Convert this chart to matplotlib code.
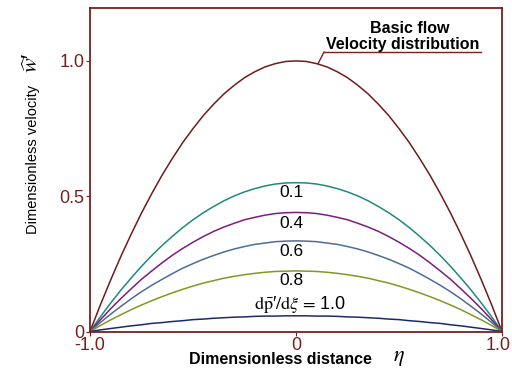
import matplotlib
matplotlib.use("Agg")
import matplotlib.pyplot as plt
from matplotlib.transforms import ScaledTranslation

plt.rcParams['font.family'] = ['Liberation Sans', 'DejaVu Sans']
plt.rcParams['mathtext.fontset'] = 'stix'

# dimensionless distance eta
eta = [-1.0, -0.95, -0.9, -0.85, -0.8, -0.75, -0.7, -0.65, -0.6, -0.55, -0.5,
       -0.45, -0.4, -0.35, -0.3, -0.25, -0.2, -0.15, -0.1, -0.05, 0.0,
       0.05, 0.1, 0.15, 0.2, 0.25, 0.3, 0.35, 0.4, 0.45, 0.5,
       0.55, 0.6, 0.65, 0.7, 0.75, 0.8, 0.85, 0.9, 0.95, 1.0]

# velocity profiles
w_basic = [0, .098, .19, .278, .36, .438, .51, .578, .64, .698, .75,
           .798, .84, .878, .91, .938, .96, .978, .99, .998, 1.0,
           .998, .99, .978, .96, .938, .91, .878, .84, .798, .75,
           .698, .64, .578, .51, .438, .36, .278, .19, .098, 0]
w_01 = [0, .054, .105, .153, .198, .241, .281, .318, .352, .384, .413,
        .439, .462, .483, .501, .516, .528, .538, .545, .549, .55,
        .549, .545, .538, .528, .516, .501, .483, .462, .439, .413,
        .384, .352, .318, .281, .241, .198, .153, .105, .054, 0]
w_04 = [0, .043, .084, .122, .158, .193, .224, .254, .282, .307, .33,
        .351, .37, .386, .40, .413, .422, .43, .436, .439, .44,
        .439, .436, .43, .422, .413, .40, .386, .37, .351, .33,
        .307, .282, .254, .224, .193, .158, .122, .084, .043, 0]
w_06 = [0, .033, .064, .093, .121, .147, .171, .193, .214, .234, .251,
        .267, .281, .294, .305, .314, .322, .327, .332, .334, .335,
        .334, .332, .327, .322, .314, .305, .294, .281, .267, .251,
        .234, .214, .193, .171, .147, .121, .093, .064, .033, 0]
w_08 = [0, .022, .043, .062, .081, .098, .114, .129, .143, .156, .168,
        .179, .188, .197, .204, .21, .215, .219, .222, .223, .224,
        .223, .222, .219, .215, .21, .204, .197, .188, .179, .168,
        .156, .143, .129, .114, .098, .081, .062, .043, .022, 0]
w_10 = [0, .006, .011, .016, .021, .025, .03, .033, .037, .04, .044,
        .046, .049, .051, .053, .054, .056, .057, .057, .058, .058,
        .058, .057, .057, .056, .054, .053, .051, .049, .046, .044,
        .04, .037, .033, .03, .025, .021, .016, .011, .006, 0]

profiles = [w_basic, w_01, w_04, w_06, w_08, w_10]
colors = ["#6e1c1c", "#1f8a7c", "#7c1d7c", "#4d6c98", "#7f9a22", "#1c2a6a"]
labels = ["0.1", "0.4", "0.6", "0.8"]
label_y = [0.515, 0.40, 0.297, 0.19]

axis_col = "#7a1f1f"

fig = plt.figure(figsize=(5.12, 3.70), dpi=100)
ax = fig.add_axes([0.1758, 0.104, 0.8047, 0.874])

for w, c in zip(profiles, colors):
    ax.plot(eta, w, color=c, lw=1.1)

ax.set_xlim(-1.0, 1.0)
ax.set_ylim(0, 1.195)
ax.set_xticks([-1.0, 0, 1.0])
ax.set_xticklabels(["-1.0", "0", "1.0"])
ax.set_yticks([0, 0.5, 1.0])
ax.set_yticklabels(["0", "0.5", "1.0"])
for s in ax.spines.values():
    s.set_color(axis_col)
    s.set_linewidth(1.3)
ax.tick_params(colors=axis_col, labelsize=13, length=3, width=0.8, pad=1)
last = ax.get_xticklabels()[-1]
last.set_transform(last.get_transform() + ScaledTranslation(-4 / 100, 0, fig.dpi_scale_trans))

for lab, y in zip(labels, label_y):
    ax.text(-0.02, y, lab, fontsize=12.5, ha='center', va='center')
ax.text(0.02, 0.10, r"$\mathrm{d}\bar{\mathrm{p}}$" + "\u2032" + r"$/\mathrm{d}\xi\,=\,$" + "1.0",
        fontsize=13, ha='center', va='center')

# basic flow annotation
ax.text(0.55, 1.118, "Basic flow", fontsize=11.5, fontweight='bold', ha='center', va='center')
ax.text(0.52, 1.059, "Velocity distribution", fontsize=11.5, fontweight='bold',
        ha='center', va='center')
ax.plot([0.136, 0.898], [1.033, 1.033], color=axis_col, lw=1.0)
ax.plot([0.136, 0.107], [1.033, 0.99], color=axis_col, lw=1.0)

fig.text(0.064, 0.568, "Dimensionless velocity", rotation=90, fontsize=10.5,
         ha='center', va='center')
fig.text(0.064, 0.83, r"$\widehat{w}$" + "\u2032", rotation=90, fontsize=16,
         ha='center', va='center')
fig.text(0.547, 0.028, "Dimensionless distance", fontsize=11.5, fontweight='bold',
         ha='center', va='center')
fig.text(0.78, 0.034, r"$\eta$", fontsize=16, ha='center', va='center')

fig.savefig("out.png", dpi=100, facecolor='white')
